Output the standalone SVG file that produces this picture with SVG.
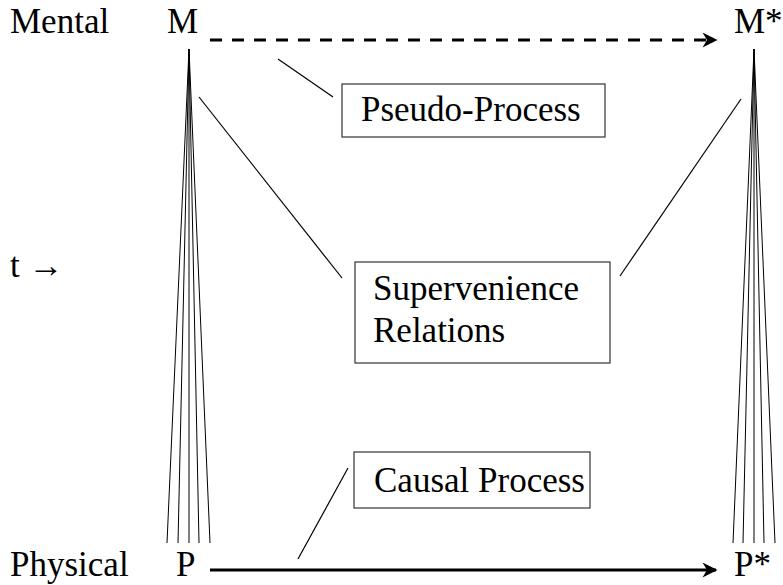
<svg xmlns="http://www.w3.org/2000/svg" width="783" height="585" viewBox="0 0 783 585">
<defs>
<style>
text{font-family:"Liberation Serif","Times New Roman",serif;font-size:35px;fill:#000}
.box{fill:#fff;stroke:#333;stroke-width:1.2}
.thin{stroke:#000;stroke-width:1.2;fill:none}
.fan{stroke:#000;stroke-width:1;fill:none}
</style>
<marker id="ah" viewBox="0 0 10 10" refX="9" refY="5" markerWidth="6" markerHeight="5" orient="auto" markerUnits="strokeWidth">
<path d="M0,0 L10,5 L0,10 L3,5 Z" fill="#000"/>
</marker>
</defs>
<g id="labels">
<text x="10" y="33">Mental</text>
<text x="10" y="277">t →</text>
<text x="10" y="576">Physical</text>
</g>
<g id="node-M"><text x="167" y="33">M</text></g>
<g id="node-Mstar"><text x="734" y="33">M*</text></g>
<g id="node-P"><text x="176" y="576">P</text></g>
<g id="node-Pstar"><text x="734" y="576">P*</text></g>
<g id="node-pseudo"><rect class="box" x="342" y="84" width="263" height="53"/><text x="361" y="121">Pseudo-Process</text></g>
<g id="node-super"><rect class="box" x="355" y="262" width="255" height="101"/><text x="373" y="300">Supervenience</text><text x="373" y="342">Relations</text></g>
<g id="node-causal"><rect class="box" x="354" y="452" width="236" height="56"/><text x="374" y="492">Causal Process</text></g>
<g id="connectors">
<line x1="210" y1="40" x2="716" y2="40" stroke="#000" stroke-width="3" stroke-dasharray="12,10" marker-end="url(#ah)"/>
<line x1="210" y1="570" x2="716" y2="570" stroke="#000" stroke-width="3" marker-end="url(#ah)"/>
<line class="fan" x1="189" y1="49" x2="167" y2="543"/>
<line class="fan" x1="189" y1="49" x2="178" y2="543"/>
<line class="fan" x1="189" y1="49" x2="189" y2="543"/>
<line class="fan" x1="189" y1="49" x2="199" y2="543"/>
<line class="fan" x1="189" y1="49" x2="210" y2="543"/>
<line class="fan" x1="754" y1="49" x2="733" y2="543"/>
<line class="fan" x1="754" y1="49" x2="743" y2="543"/>
<line class="fan" x1="754" y1="49" x2="754" y2="543"/>
<line class="fan" x1="754" y1="49" x2="764" y2="543"/>
<line class="fan" x1="754" y1="49" x2="775" y2="543"/>
<line class="thin" x1="278" y1="59" x2="333" y2="97"/>
<line class="thin" x1="199" y1="97" x2="342" y2="278"/>
<line class="thin" x1="741" y1="99" x2="620" y2="276"/>
<line class="thin" x1="348" y1="468" x2="298" y2="559"/>
</g>
</svg>
